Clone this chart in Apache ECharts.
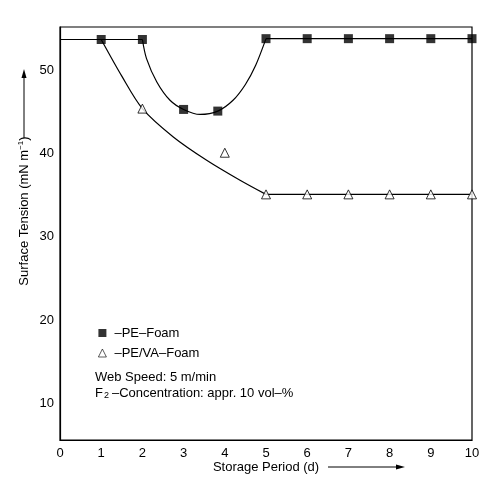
<!DOCTYPE html>
<html>
<head>
<meta charset="utf-8">
<script src="https://cdn.jsdelivr.net/npm/echarts@6/dist/echarts.min.js"></script>
<style>
html,body{margin:0;padding:0;background:#fff;}
#main{width:491px;height:485px;}
</style>
</head>
<body>
<div id="main"></div>
<script>
// ---- data ----
var xTicks = [0,1,2,3,4,5,6,7,8,9,10];
var yTickLabels = [10,20,30,40,50];

// measured points
var peX = [1,2,3,3.83,5,6,7,8,9,10];
var peY = [53.7,53.7,45.3,45.1,53.8,53.8,53.8,53.8,53.8,53.8];
var pevaX = [2,4,5,6,7,8,9,10];
var pevaY = [45.4,40.1,35.1,35.1,35.1,35.1,35.1,35.1];

// drawn guide curves
var peLeftX = [0,1,2];
var peLeftY = [53.7,53.7,53.7];
var peCurveX = [2,2.1,2.35,2.67,3,3.4,3.83,4.2,4.5,4.75,5];
var peCurveY = [53.7,51.4,48.6,46.4,45.3,44.7,45.1,46.4,48.3,50.6,53.8];
var peRightX = [5,6,7,8,9,10];
var peRightY = [53.8,53.8,53.8,53.8,53.8,53.8];
var pevaCurveX = [1,1.5,2,2.75,3.56,4.37,5];
var pevaCurveY = [53.7,49.3,45.4,42.0,39.2,36.8,35.1];
var pevaFlatX = [5,6,7,8,9,10];
var pevaFlatY = [35.1,35.1,35.1,35.1,35.1,35.1];

function pairs(xs, ys){ return xs.map(function(x,i){ return [x, ys[i]]; }); }

var FONT = '"Liberation Sans", Arial, Helvetica, sans-serif';
var chart = echarts.init(document.getElementById('main'), null, {renderer:'canvas'});

var lineStyle = {color:'#000', width:1.2};
function guide(data, smooth){
  return {type:'line', data:data, showSymbol:false, symbol:'none', smooth:smooth||false,
          lineStyle:lineStyle, silent:true, z:2, legendHoverLink:false};
}

chart.setOption({
  animation:false,
  backgroundColor:'#fff',
  textStyle:{fontFamily:FONT},
  grid:{left:60, right:19, top:27, bottom:45, show:true, borderColor:'#000', borderWidth:1.2, containLabel:false},
  xAxis:{type:'value', min:xTicks[0], max:xTicks[xTicks.length-1], interval:1,
    axisLine:{show:true, lineStyle:{color:'#000', width:1.2}},
    axisTick:{show:false}, splitLine:{show:false},
    axisLabel:{color:'#000', fontSize:13, margin:7, fontFamily:FONT}},
  yAxis:{type:'value', min:5.6, max:55.2,
    axisLine:{show:true, lineStyle:{color:'#000', width:1.2}},
    axisTick:{show:false}, splitLine:{show:false},
    axisLabel:{color:'#000', fontSize:13, margin:6, fontFamily:FONT, customValues:yTickLabels}},
  legend:{orient:'vertical', left:93, top:321, itemWidth:8, itemHeight:8, itemGap:6,
    textStyle:{color:'#000', fontSize:13, fontFamily:FONT, lineHeight:14, padding:[0,0,0,3]},
    data:[{name:'–PE–Foam'},{name:'–PE/VA–Foam', itemStyle:{borderWidth:0.8}}], selectedMode:false},
  series:[
    guide(pairs(peLeftX, peLeftY)),
    guide(pairs(peCurveX, peCurveY), 0.3),
    guide(pairs(peRightX, peRightY)),
    guide(pairs(pevaCurveX, pevaCurveY), 0.3),
    guide(pairs(pevaFlatX, pevaFlatY)),
    {type:'scatter', name:'–PE–Foam', data:pairs(peX, peY), symbol:'rect', symbolSize:9,
     itemStyle:{color:'#000', borderWidth:0}, z:5},
    {type:'scatter', name:'–PE/VA–Foam', data:pairs(pevaX, pevaY), symbol:'triangle', symbolSize:9,
     itemStyle:{color:'#fff', borderColor:'#000', borderWidth:1}, z:5}
  ],
  graphic:[
    {type:'text', x:24, y:211, rotation:Math.PI/2,
     style:{text:'Surface Tension (mN m{sup|−1})', fill:'#000', font:'13px '+FONT, align:'center', verticalAlign:'middle',
            rich:{sup:{fontSize:8, verticalAlign:'top', padding:[0,0,6,0], fill:'#000', fontFamily:FONT}}}},
    {type:'line', shape:{x1:24, y1:138, x2:24, y2:76}, style:{stroke:'#000', lineWidth:1}},
    {type:'polygon', shape:{points:[[24,69],[21.5,78],[26.5,78]]}, style:{fill:'#000'}},
    {type:'text', x:266, y:467,
     style:{text:'Storage Period (d)', fill:'#000', font:'13px '+FONT, align:'center', verticalAlign:'middle'}},
    {type:'line', shape:{x1:328, y1:467, x2:397, y2:467}, style:{stroke:'#000', lineWidth:1}},
    {type:'polygon', shape:{points:[[405,467],[396,464.5],[396,469.5]]}, style:{fill:'#000'}},
    {type:'text', x:95, y:377,
     style:{text:'Web Speed: 5 m/min', fill:'#000', font:'13px '+FONT, align:'left', verticalAlign:'middle'}},
    {type:'text', x:95, y:393,
     style:{text:'F{sub|2}–Concentration: appr. 10 vol–%', fill:'#000', font:'13px '+FONT, align:'left', verticalAlign:'middle',
            rich:{sub:{fontSize:9, fill:'#000', fontFamily:FONT, verticalAlign:'bottom', padding:[6,3,0,1]}}}}
  ]
});
</script>
</body>
</html>
